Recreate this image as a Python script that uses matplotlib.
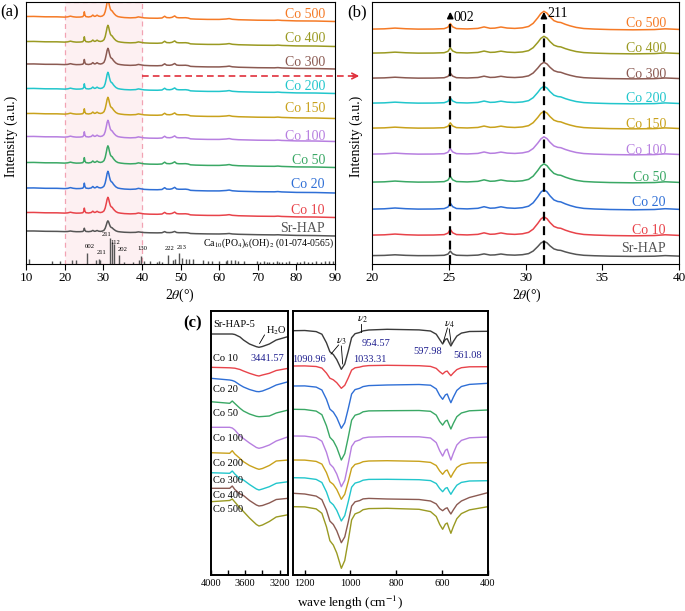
import numpy as np
import matplotlib.pyplot as plt
from matplotlib.lines import Line2D
from matplotlib.patches import FancyArrowPatch

plt.rcParams['font.family'] = ['Liberation Serif', 'DejaVu Serif']
plt.rcParams['mathtext.fontset'] = 'stix'

# ---------------- XRD data ----------------
samples = ['Sr-HAP', 'Co 10', 'Co 20', 'Co 50', 'Co 100', 'Co 150', 'Co 200', 'Co 300', 'Co 400', 'Co 500']
xrd_colors = ['#555555', '#e8434a', '#2f6fd6', '#3aa865', '#b77fe0',
              '#c9a21c', '#22c6cc', '#8b5a52', '#9a9a22', '#f57a26']

# shared diffraction profile (211 peak = 1) and sloping background
two_theta = [10.0, 12.0, 15.0, 18.0, 20.0,
             20.8, 21.5, 22.2, 23.0, 24.0,
             24.7, 24.95, 25.1, 25.25, 25.5,
             26.2, 26.9, 27.3, 27.7, 28.0,
             28.4, 28.8, 29.3, 29.8, 30.2,
             30.5, 30.8, 31.0, 31.2, 31.4,
             31.6, 31.85, 32.1, 32.3, 32.6,
             32.9, 33.3, 33.8, 34.5, 35.5,
             37.0, 38.4, 39.1, 39.8, 40.6,
             42.0, 44.0, 45.2, 45.9, 46.4,
             47.2, 47.8, 48.5, 49.0, 49.6,
             50.5, 51.3, 52.0, 52.6, 54.0,
             57.0, 60.0, 61.8, 62.6, 63.4,
             65.0, 70.0, 74.3, 75.2, 76.2,
             80.0, 85.0, 90.0]
peak = [0.00, 0.01, 0.00, 0.01, 0.00,
        0.02, 0.06, 0.03, 0.01, 0.02,
        0.04, 0.12, 0.32, 0.14, 0.05,
        0.03, 0.06, 0.14, 0.07, 0.08,
        0.14, 0.09, 0.07, 0.10, 0.18,
        0.35, 0.65, 0.88, 1.00, 0.90,
        0.70, 0.50, 0.42, 0.40, 0.30,
        0.22, 0.14, 0.08, 0.05, 0.03,
        0.02, 0.04, 0.08, 0.06, 0.03,
        0.02, 0.02, 0.04, 0.14, 0.07,
        0.06, 0.09, 0.17, 0.08, 0.07,
        0.07, 0.08, 0.06, 0.02, 0.01,
        0.00, 0.01, 0.04, 0.07, 0.03,
        0.01, 0.00, 0.01, 0.03, 0.01,
        0.00, 0.01, 0.00]
background = [5.0, 4.9, 4.7, 4.5, 4.4,
              4.3, 4.3, 4.2, 4.2, 4.1,
              4.1, 4.1, 4.1, 4.1, 4.0,
              4.0, 4.0, 4.0, 3.9, 3.9,
              3.9, 3.8, 3.8, 3.8, 3.7,
              3.7, 3.7, 3.7, 3.7, 3.7,
              3.6, 3.6, 3.6, 3.6, 3.6,
              3.6, 3.5, 3.5, 3.5, 3.4,
              3.3, 3.2, 3.2, 3.1, 3.1,
              3.0, 2.9, 2.8, 2.8, 2.7,
              2.7, 2.6, 2.6, 2.6, 2.5,
              2.5, 2.4, 2.4, 2.3, 2.2,
              2.1, 1.9, 1.8, 1.7, 1.7,
              1.6, 1.3, 1.0, 0.9, 0.9,
              0.6, 0.3, 0.0]

offset_a = [27.5, 46, 70.5, 96, 122, 145, 170, 194.5, 217, 242]
scale_a = [11.5, 16.5, 18, 18, 17.5, 17.5, 17.5, 17, 17.5, 17.5]
offset_b = [4, 24.5, 50.5, 77.5, 105.5, 131.5, 156.5, 181.5, 206.5, 230.5]
scale_b = [15, 19, 20, 19, 18, 17.5, 17.5, 16.5, 17.5, 18.5]

# reference pattern Ca10(PO4)6(OH)2, 01-074-0565
ref_pos = [10.8, 16.8, 18.8, 21.8, 22.9,
           25.9, 28.1, 28.9, 29.1, 31.8,
           32.2, 32.9, 34.0, 35.5, 37.8,
           39.2, 39.8, 40.5, 42.0, 43.8,
           44.4, 45.3, 46.7, 48.1, 48.6,
           49.5, 50.5, 51.3, 52.1, 53.2,
           55.9, 57.1, 58.1, 60.0, 61.7,
           62.0, 63.0, 64.1, 65.0, 66.4,
           69.7, 70.5, 71.7, 72.3, 73.0,
           74.0, 75.0, 75.6, 76.3, 77.2,
           78.2, 80.1, 81.0, 82.0, 83.0,
           84.0, 85.2, 86.5, 87.5, 88.5,
           89.5]
ref_int = [5, 2.5, 2.5, 4, 4,
           11, 3.5, 5, 4, 25.5,
           21.5, 20, 9, 2, 2,
           4, 8, 3, 2.5, 2,
           2.5, 2, 9, 4, 5,
           10.5, 6, 5, 5, 5,
           3.5, 2.5, 3, 3, 3,
           4, 4, 4, 3, 3,
           2.5, 2, 3, 2, 2,
           2, 2.5, 2, 2, 2,
           2.5, 2, 2, 2.5, 2,
           2, 3, 2, 2.5, 3,
           3]
ref_hkl = ['002', '211', '211', '112', '202', '130', '222', '213']

# ---------------- FTIR data ----------------
ir_samples = ['Sr-HAP-5', 'Co 10', 'Co 20', 'Co 50', 'Co 100', 'Co 200', 'Co 300', 'Co 400', 'Co 500']
ir_colors = ['#3a3a3a', '#e8434a', '#2f6fd6', '#3aa865', '#b77fe0',
             '#c9a21c', '#22c6cc', '#8b5a52', '#9a9a22']

wn_oh = [4000, 3780, 3750, 3720, 3660, 3620, 3550, 3470, 3440, 3400, 3320, 3240, 3100]
T_oh = [
    [266, 266, 266, 265.5, 263, 260, 256, 253.3, 252.7, 253.5, 256, 260, 263.5],
    [232.7, 232.2, 232, 231.8, 230.5, 229, 226.7, 224.5, 224, 225, 226.7, 229.5, 231.7],
    [221.7, 220, 219.5, 218.5, 215, 213, 210.5, 208.5, 208.3, 209, 211.7, 215, 218.3],
    [198.3, 196.7, 199, 196.5, 191.7, 189, 186, 183.7, 183.3, 183.5, 184, 187, 190],
    [172.7, 172.7, 172, 170, 164, 161.5, 157, 152.5, 151.7, 152.5, 155, 159, 163.3],
    [147.3, 146.7, 149.3, 146, 141.5, 138.3, 134.5, 131.5, 130.7, 131.5, 134.5, 139, 140],
    [127.3, 126.7, 129, 126, 121, 120, 115.5, 111, 110, 111, 113.3, 116.7, 118.3],
    [111.7, 111.7, 114, 110.5, 106, 104.5, 99.5, 95, 94, 94.5, 97, 100.5, 101.7],
    [98.3, 99.5, 101, 98, 92, 88.5, 82, 75.5, 74, 75, 78.5, 83, 85.3],
]

wn_po = [1250, 1200, 1150, 1125, 1105, 1090, 1075, 1060, 1040, 1025, 1010, 995, 980, 960, 945, 920, 840,
         700, 650, 625, 610, 597, 585, 577, 570, 561, 550, 535, 515, 480, 400]
T_po = [
    [269.3, 269.5, 268.4, 265.8, 257.2, 248.2, 245.5, 240.4, 230.7, 235.9, 248.5, 262.3, 266.3, 267.5, 269.1, 270.0, 270.7,
     270.1, 269.0, 265.8, 260.5, 256.0, 260.6, 261.3, 257.9, 254.0, 258.6, 263.9, 266.9, 268.5, 268.7],
    [234.0, 234.1, 233.5, 231.9, 226.9, 221.8, 220.2, 217.3, 211.7, 214.7, 221.9, 229.9, 232.2, 232.9, 233.8, 234.4, 234.7,
     234.3, 233.6, 231.6, 228.3, 226.0, 228.4, 228.9, 226.7, 224.3, 227.1, 230.4, 232.3, 233.2, 233.3],
    [214.0, 214.1, 212.9, 210.0, 200.7, 190.9, 187.9, 182.4, 171.7, 177.3, 191.1, 206.0, 210.4, 211.7, 213.4, 214.4, 215.0,
     215.5, 214.8, 211.1, 204.6, 200.7, 205.1, 206.0, 201.9, 197.3, 202.9, 209.6, 213.5, 215.6, 216.7],
    [190.7, 190.5, 188.9, 185.3, 174.2, 162.7, 159.1, 152.5, 140.0, 146.4, 162.4, 179.8, 184.8, 186.2, 188.2, 189.1, 189.3,
     189.5, 188.7, 184.9, 178.5, 174.9, 178.9, 179.8, 175.7, 171.0, 176.7, 183.3, 187.0, 189.2, 190.0],
    [164.0, 163.9, 162.3, 158.8, 147.7, 136.0, 132.5, 126.0, 113.3, 119.8, 135.9, 153.5, 158.5, 160.0, 162.0, 162.9, 163.3,
     163.2, 162.0, 157.4, 149.3, 143.9, 149.7, 150.9, 145.8, 140.0, 146.9, 155.0, 159.6, 162.2, 163.0],
    [140.0, 139.9, 138.6, 135.9, 127.4, 118.3, 115.6, 110.5, 100.7, 105.8, 118.2, 131.8, 135.6, 136.8, 138.3, 139.0, 139.3,
     138.7, 137.6, 134.5, 129.1, 125.7, 129.2, 130.0, 126.6, 122.7, 127.3, 132.5, 135.5, 137.1, 137.3],
    [122.3, 122.1, 120.6, 117.5, 108.1, 98.3, 95.2, 89.7, 79.0, 84.4, 98.0, 112.8, 116.9, 118.2, 119.8, 120.6, 120.7,
     120.3, 119.4, 116.5, 111.5, 108.3, 111.7, 112.4, 109.2, 105.7, 109.9, 114.8, 117.6, 119.0, 119.3],
    [106.7, 106.0, 103.9, 100.3, 89.8, 78.9, 75.5, 69.2, 57.3, 63.1, 77.8, 93.9, 98.2, 99.4, 101.1, 101.6, 101.0,
     100.5, 99.0, 96.1, 91.4, 89.3, 91.5, 92.2, 89.2, 86.0, 90.2, 95.3, 99.0, 102.5, 107.3],
    [93.3, 93.1, 91.1, 86.7, 73.2, 59.3, 54.9, 47.0, 31.7, 39.5, 59.0, 80.1, 86.1, 87.9, 90.3, 91.4, 91.7,
     90.7, 88.4, 83.5, 75.7, 70.7, 75.9, 77.0, 72.2, 66.7, 73.4, 81.3, 86.4, 90.1, 93.3],
]

# ---------------- figure ----------------
W, H = 685, 611
fig = plt.figure(figsize=(W / 100, H / 100), dpi=100)


def box(l, t, r, b):
    return [l / W, 1 - b / H, (r - l) / W, (b - t) / H]


tt = np.array(two_theta)
pk = np.array(peak)
bg = np.array(background)

# (a) full pattern
ax_a = fig.add_axes(box(26, 1.5, 335, 263.5))
ax_a.axvspan(20, 40, facecolor='#fdf0f2', edgecolor='#f2a3b3', ls=(0, (4, 3)), lw=0.9, zorder=0)
for i, name in enumerate(samples):
    y = offset_a[i] + bg + scale_a[i] * pk
    ax_a.plot(tt, y, color=xrd_colors[i], lw=1.1)
ax_a.vlines(ref_pos, 0, ref_int, color='#555555', lw=1.0)
a_lab_y = [35.5, 53.5, 78.5, 103.5, 127.5, 155.5, 177.5, 201.5, 225.5, 249.5]
for i, name in enumerate(samples):
    ax_a.text(87.4, a_lab_y[i], name, color=xrd_colors[i], fontsize=10, ha='right', va='center')
hkl_xy = [(26.4, 14.2), (29.6, 8.5), (30.9, 26.2), (33.2, 18.5), (34.9, 11.8), (40.1, 12.5), (47.1, 12.8), (50.3, 13.5)]
for lab, (x, y) in zip(ref_hkl, hkl_xy):
    ax_a.text(x, y, lab, fontsize=4.8, ha='center', va='bottom')
ax_a.text(89.6, 13.5, r'Ca$_{10}$(PO$_4$)$_6$(OH)$_2$ (01-074-0565)', fontsize=7, ha='right', va='bottom')
ax_a.set_xlim(10, 90)
ax_a.set_ylim(0, 262)
ax_a.set_xticks(range(10, 91, 10))
ax_a.set_yticks([])
ax_a.tick_params(axis='x', direction='out', length=4, labelsize=9.5, pad=2)

# (b) zoom 20-40
ax_b = fig.add_axes(box(372, 1.5, 679, 264))
for i, name in enumerate(samples):
    y = offset_b[i] + bg + scale_b[i] * pk
    ax_b.plot(tt, y, color=xrd_colors[i], lw=1.1)
b_lab_y = [16, 34, 62, 87, 114, 140, 166, 190, 216, 241]
for i, name in enumerate(samples):
    ax_b.text(39.15, b_lab_y[i], name, color=xrd_colors[i], fontsize=10, ha='right', va='center')
for x0, lab in [(25.1, '002'), (31.2, '211')]:
    ax_b.vlines(x0, 0, 246, colors='k', linestyles=(0, (4, 2.5)), lw=1.6)
    ax_b.annotate('', xy=(x0, 255), xytext=(x0, 244),
                  arrowprops=dict(arrowstyle='-|>', color='k', lw=1.2, mutation_scale=9))
ax_b.text(25.3, 247, '002', fontsize=10, ha='left', va='center')
ax_b.text(31.45, 251, '211', fontsize=10, ha='left', va='center')
ax_b.set_xlim(20, 40)
ax_b.set_ylim(0, 262.5)
ax_b.set_xticks(range(20, 41, 5))
ax_b.set_yticks([])
ax_b.tick_params(axis='x', direction='out', length=4, labelsize=9.5, pad=2)

# red dashed arrow linking (a) to (b)
ya = 1 - 76 / H
fig.add_artist(Line2D([142 / W, 356 / W], [ya, ya], transform=fig.transFigure,
                      color='#e0303c', lw=1.2, ls=(0, (4, 2.5))))
fig.add_artist(FancyArrowPatch((350 / W, ya), (362 / W, ya), transform=fig.transFigure,
                               arrowstyle='->', color='#e0303c', lw=1.2, mutation_scale=10))

for x in (11, 356):
    fig.text(x / W, 1 - 136 / H, 'Intensity (a.u.)', rotation=90, fontsize=10, ha='center', va='center')
for x in (180, 527):
    fig.text(x / W, 1 - 295 / H, r'2$\theta$(°)', fontsize=10, ha='center', va='center')
fig.text(10 / W, 1 - 12 / H, '(a)', fontsize=12, ha='center', va='center')
fig.text(357 / W, 1 - 12 / H, '(b)', fontsize=12, ha='center', va='center')

# (c) FTIR
ax_c1 = fig.add_axes(box(210.7, 311, 288.3, 575))
ax_c2 = fig.add_axes(box(293.3, 311, 487.7, 575))
for i, name in enumerate(ir_samples):
    ax_c1.plot(wn_oh, T_oh[i], color=ir_colors[i], lw=1.0)
    ax_c2.plot(wn_po, T_po[i], color=ir_colors[i], lw=1.0)

ir_lab_y = [276, 241.7, 211, 186.7, 161.7, 136.7, 119.3, 105, 90]
for i, name in enumerate(ir_samples):
    ax_c1.text(3975, ir_lab_y[i], name, fontsize=7.5, ha='left', va='center')

navy = '#1f1f8f'
ax_c1.text(3240, 269.5, r'H$_2$O', fontsize=7.5, ha='center', va='center')
ax_c1.plot([3433, 3376], [256.5, 265], color='k', lw=0.6)
ax_c1.text(3338, 241.7, '3441.57', fontsize=7.5, color=navy, ha='center', va='center')

ax_c2.text(1040, 259, r'$\nu_3$', fontsize=8, ha='center', va='center')
ax_c2.plot([1052, 1085], [255, 246], color='k', lw=0.6)
ax_c2.plot([1040, 1034], [254, 236], color='k', lw=0.6)
ax_c2.text(948, 281, r'$\nu_2$', fontsize=8, ha='center', va='center')
ax_c2.plot([955, 955], [268.5, 276], color='k', lw=0.6)
ax_c2.text(566, 276, r'$\nu_4$', fontsize=8, ha='center', va='center')
ax_c2.plot([576, 594], [272, 258], color='k', lw=0.6)
ax_c2.plot([568, 560], [271, 256.5], color='k', lw=0.6)
ax_c2.text(1180, 240.7, '1090.96', fontsize=7.5, color=navy, ha='center', va='center')
ax_c2.text(916, 240.7, '1033.31', fontsize=7.5, color=navy, ha='center', va='center')
ax_c2.text(887, 256.7, '954.57', fontsize=7.5, color=navy, ha='center', va='center')
ax_c2.text(661, 248.3, '597.98', fontsize=7.5, color=navy, ha='center', va='center')
ax_c2.text(486, 245, '561.08', fontsize=7.5, color=navy, ha='center', va='center')

ax_c1.set_xlim(4000, 3100)
ax_c2.set_xlim(1250, 400)
for ax in (ax_c1, ax_c2):
    ax.set_ylim(25, 289)
    ax.set_yticks([])
    for s in ax.spines.values():
        s.set_linewidth(1.4)
    ax.tick_params(axis='x', direction='in', length=3.5, width=1, labelsize=7.5, pad=3)
ax_c1.set_xticks([4000, 3600, 3200])
ax_c1.set_xticks([3800, 3400], minor=True)
ax_c1.tick_params(axis='x', which='minor', direction='in', length=3.5, width=1)
ax_c2.set_xticks([1200, 1000, 800, 600, 400])

fig.text(350 / W, 1 - 603 / H, 'wave length (cm$^{-1}$)', fontsize=9.5, ha='center', va='center')
fig.text(193 / W, 1 - 323 / H, '(c)', fontsize=12, fontweight='bold', ha='center', va='center')

fig.savefig('out.png', dpi=100)
